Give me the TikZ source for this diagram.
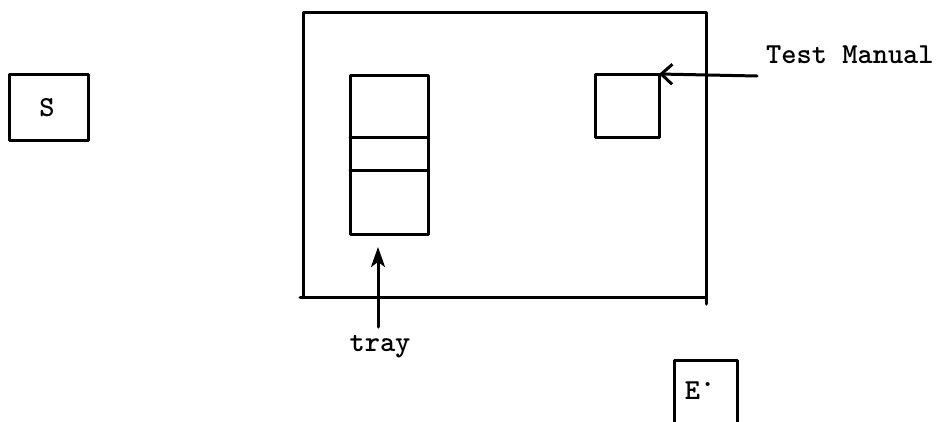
\documentclass[tikz,border=0pt]{standalone}
\usetikzlibrary{arrows.meta}
\begin{document}
\begin{tikzpicture}[x=1pt,y=-1pt,
  ink/.style={line width=3pt,line cap=round,line join=round},
  box/.style={ink,draw,inner sep=0pt,outer sep=0pt},
  lbl/.style={font=\fontsize{29}{32}\selectfont\ttfamily\bfseries,inner sep=0pt},
  barb/.style={ink,-{Straight Barb[length=11pt,width=20pt,line width=3pt]}},
  poke/.style={ink,-{Stealth[length=20pt,width=14pt,inset=5pt]}}]
\useasboundingbox (0,0) rectangle (940,421);

% subject
\node[box,minimum width=79pt,minimum height=66pt] (s) at (48.5,107) {};
\node[lbl] (stext) at (47,108) {S};

% table
\node[box,minimum width=403pt,minimum height=285pt] (table) at (504.5,154.5) {};
\draw[ink] (table.south west) -- ++(-3,0);
\draw[ink] (table.south east) -- ++(0,7);

% tray with its three compartments
\node[box,minimum width=78pt,minimum height=159pt] (tray) at (389,154.5) {};
\draw[ink] ([yshift=-62pt]tray.north west) -- ([yshift=-62pt]tray.north east);
\draw[ink] ([yshift=-95pt]tray.north west) -- ([yshift=-95pt]tray.north east);

% test manual
\node[box,minimum width=64pt,minimum height=63pt] (manual) at (627,105.5) {};

% examiner
\coordinate (ebl) at (674,423);
\coordinate (ebr) at (737,423);
\draw[ink] (ebl) -- (674,360) -- (737,360) -- (ebr);
\node[lbl] (etext) at (700,391) {E\raisebox{1.1ex}{.}};

% labels and pointers
\node[lbl,anchor=base west] (mlabel) at (766,63) {Test Manual};
\coordinate (mstart) at (757,76);
\draw[barb] (mstart) -- (manual.north east);

\node[lbl,anchor=base] (tlabel) at (380,351) {tray};
\coordinate (tstart) at (378,327);
\draw[poke] (tstart) -- ([yshift=-13pt]tray.south -| tstart);
\end{tikzpicture}
\end{document}
